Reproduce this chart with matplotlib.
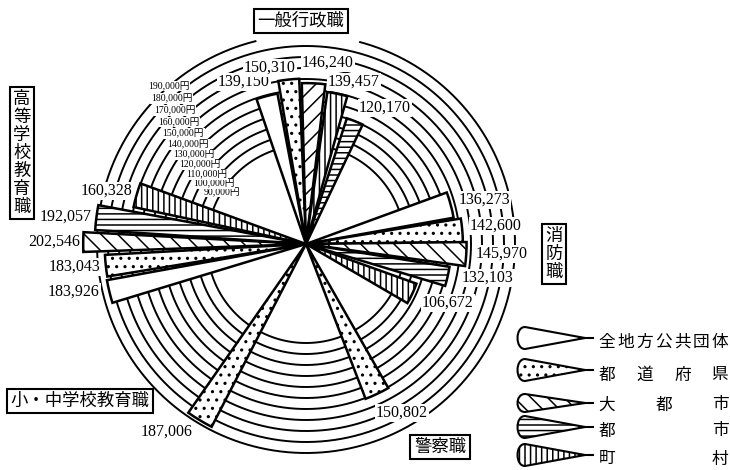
#!/usr/bin/python

############### Importing libraries ################
import numpy as np
import matplotlib
matplotlib.use("Agg")
import matplotlib.pyplot as plt
from matplotlib.path import Path
from matplotlib.patches import PathPatch

plt.rcParams['font.family'] = ['Noto Sans CJK JP', 'DejaVu Sans']
plt.rcParams['hatch.linewidth'] = 1.1
plt.rcParams['hatch.color'] = 'black'

############### Data ###############
# Legend order: all local bodies, prefectures, big cities, cities, towns/villages
categories = ['全地方公共団体', '都道府県', '大都市', '都市', '町村']

# Monthly salary (yen) per job type
general_admin = [139150, 150310, 146240, 139457, 120170]   # 一般行政職
fire = [136273, 142600, 145970, 132103, 106672]            # 消防職
high_school = [183926, 183043, 202546, 192057, 160328]     # 高等学校教育職
police = [150802]                                          # 警察職 (都道府県)
elem_school = [187006]                                     # 小・中学校教育職 (都道府県)

# Concentric scale rings
ring_values = [90000, 100000, 110000, 120000, 130000, 140000,
               150000, 160000, 170000, 180000, 190000]
ring_labels = [f"{v:,}円" for v in ring_values]

############### Layout (angles in degrees, pixel positions) ###############
W, H = 730, 470
CX, CY = 306, 244          # centre of the rings in image pixels
PX_PER_YEN = 1.1e-3
R_MAX = 230000

top_theta = [104.8, 96.0, 87.3, 78.2, 68.3]
top_width = [8.1, 7.3, 8.4, 7.6, 7.4]
top_hatch = ['', '..', '//', '|||', '---']

right_theta = [15.1, 5.0, -3.6, -12.9, -25.0]
right_width = [10.0, 8.7, 8.6, 7.7, 10.5]
side_hatch = ['', '..', '\\\\', '---', '|||']

left_theta = [193.6, 186.2, 179.5, 172.8, 163.9]
left_width = [6.6, 6.2, 5.1, 6.8, 8.0]

police_theta, police_width = [-64.6], [8.7]
elem_theta, elem_width = [238.9], [7.6]

# Value label centres (image pixels)
top_pos = [(244, 82), (270, 68), (328, 63), (354, 82), (385, 108)]
right_pos = [(484, 200), (496, 226), (502, 254), (488, 278), (448, 303)]
left_pos = [(74, 292), (75, 267), (54, 242), (66, 217), (107, 191)]
police_pos = [(402, 413)]
elem_pos = [(167, 432)]

legend_y = [338, 370, 403, 427, 455]
legend_text_y = [342, 375, 405, 431, 459]


def draw_bars(ax, theta, widths, values, hatches):
    '''Draw one group of thin wedge bars on the polar axes.'''
    for t, w, v, h in zip(theta, widths, values, hatches):
        ax.bar(np.deg2rad(t), v, width=np.deg2rad(w), bottom=0,
               facecolor='white', edgecolor='black', linewidth=1.8,
               hatch=h, zorder=3)


def draw_values(ax, pix, positions, values):
    '''Write the yen values next to the bar ends (under the bars, over the rings).'''
    for (x, y), v in zip(positions, values):
        ax.text(x, y, f"{v:,}", transform=pix, ha='center', va='center',
                fontsize=11.5, family='Liberation Serif', zorder=2.5,
                bbox=dict(facecolor='white', edgecolor='none', pad=0.6))


def box_label(ax, x, y, text):
    ax.text(x, y, text, ha='center', va='center', fontsize=12.5,
            linespacing=1.0, zorder=6,
            bbox=dict(boxstyle='square,pad=0.2', facecolor='white',
                      edgecolor='black', linewidth=1.5))


def main():
    fig = plt.figure(figsize=(W / 100, H / 100), dpi=100)

    # Polar axes placed so that its centre sits at (CX, CY)
    R = R_MAX * PX_PER_YEN
    ax = fig.add_axes([(CX - R) / W, (H - CY - R) / H, 2 * R / W, 2 * R / H],
                      projection='polar')
    ax.set_ylim(0, R_MAX)
    ax.set_axis_off()

    # Overlay axes in image pixel coordinates for labels and legend
    ov = fig.add_axes([0, 0, 1, 1])
    ov.set_xlim(0, W)
    ov.set_ylim(H, 0)
    ov.axis('off')

    # Rings (outermost one is open under the top title box)
    full = np.linspace(0, 2 * np.pi, 720)
    for v in ring_values:
        if v == ring_values[-1]:
            th = np.deg2rad(np.linspace(104, 435, 700))
        else:
            th = full
        ax.plot(th, np.full_like(th, v), color='black', linewidth=1.4, zorder=1)

    # Ring labels along a diagonal in the upper left
    for v, lab in zip(ring_values, ring_labels):
        ang = 148.5 - (v - ring_values[0]) / 100000 * 17.5
        ax.text(np.deg2rad(ang), v, lab, ha='center', va='center', fontsize=7,
                family=['Liberation Serif', 'Noto Sans CJK JP'], zorder=2,
                bbox=dict(facecolor='white', edgecolor='none', pad=0.3))

    # Bars
    draw_bars(ax, top_theta, top_width, general_admin, top_hatch)
    draw_bars(ax, right_theta, right_width, fire, side_hatch)
    draw_bars(ax, left_theta, left_width, high_school, side_hatch)
    draw_bars(ax, police_theta, police_width, police, ['..'])
    draw_bars(ax, elem_theta, elem_width, elem_school, ['..'])

    # Value labels live in the polar axes so the bars stay on top
    pix = ov.transData
    draw_values(ax, pix, top_pos, general_admin)
    draw_values(ax, pix, right_pos, fire)
    draw_values(ax, pix, left_pos, high_school)
    draw_values(ax, pix, police_pos, police)
    draw_values(ax, pix, elem_pos, elem_school)

    # Job type boxes
    box_label(ov, 301, 21, '一般行政職')
    box_label(ov, 554, 254, '消\n防\n職')
    box_label(ov, 440, 447, '警察職')
    box_label(ov, 80, 401, '小・中学校教育職')
    box_label(ov, 22, 153, '高\n等\n学\n校\n教\n育\n職')

    # Legend: cone shapes with the fill patterns
    x0, tip, end = 517, 585, 593
    for cat, h, yc, ty in zip(categories, side_hatch, legend_y, legend_text_y):
        hh = 9 if cat == '大都市' else 11
        verts = [(tip, yc), (x0 + 8, yc - hh),
                 (x0 - 2, yc - hh), (x0 - 2, yc + hh), (x0 + 8, yc + hh),
                 (tip, yc)]
        codes = [Path.MOVETO, Path.LINETO,
                 Path.CURVE4, Path.CURVE4, Path.CURVE4,
                 Path.CLOSEPOLY]
        ov.add_patch(PathPatch(Path(verts, codes), facecolor='white',
                               edgecolor='black', linewidth=1.5, hatch=h))
        ov.plot([tip - 6, end], [yc, yc], color='black', linewidth=1.5)

        chars = list(cat)
        xs = np.linspace(607, 720, len(chars))
        for c, x in zip(chars, xs):
            ov.text(x, ty, c, ha='center', va='center', fontsize=12)

    fig.savefig('out.png', dpi=100)


if __name__ == "__main__":
    main()
